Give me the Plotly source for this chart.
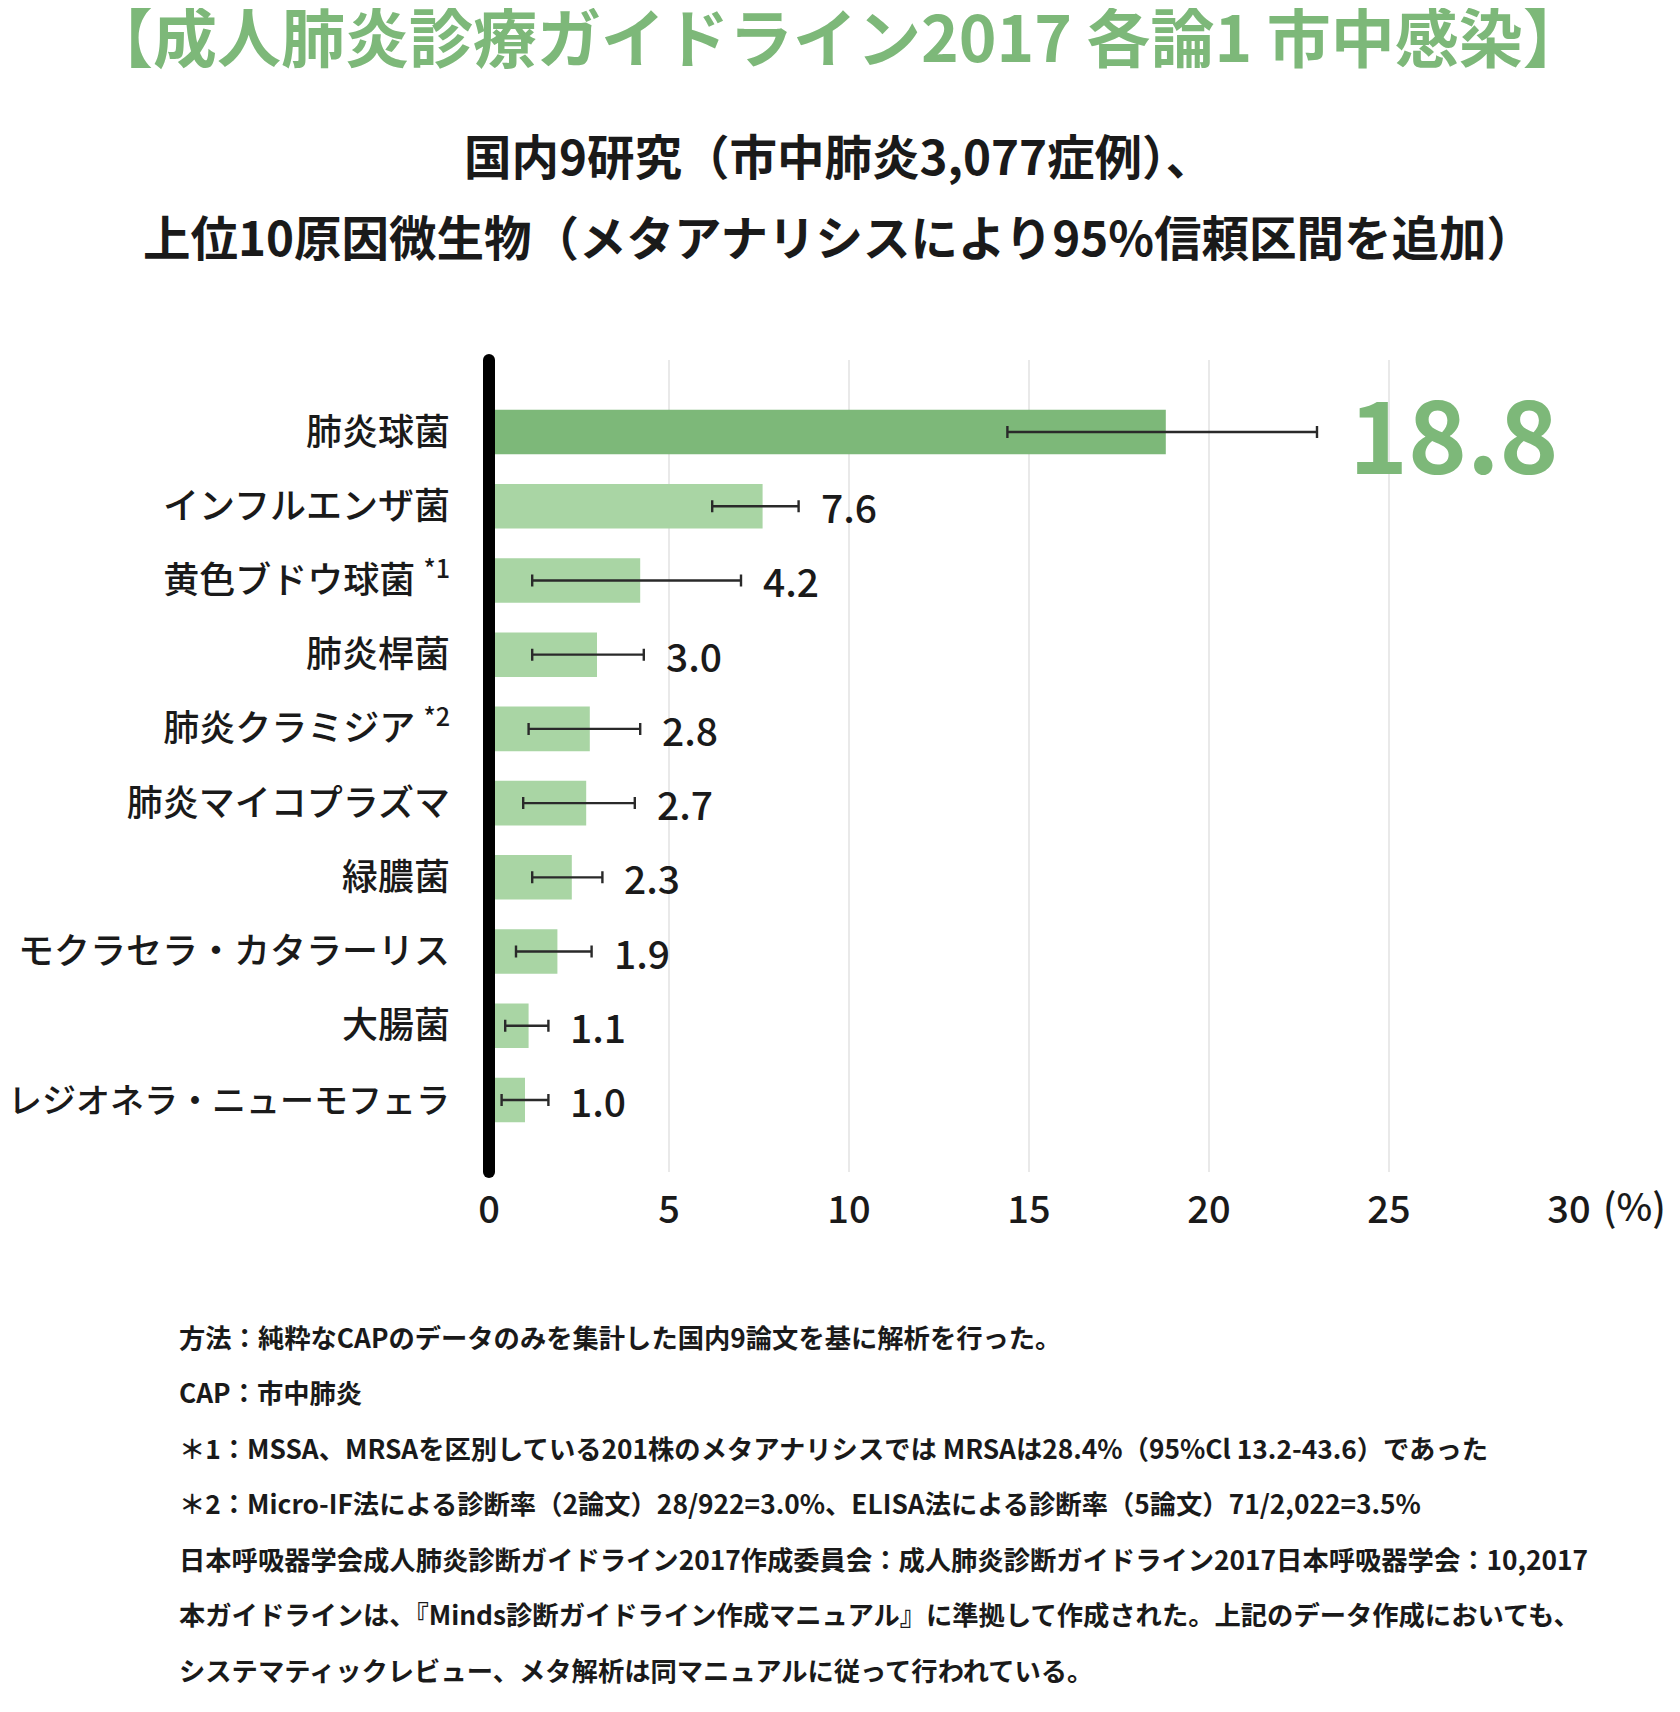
import re
import plotly.graph_objects as go

# ---------------- data ----------------
categories = ["肺炎球菌", "インフルエンザ菌", "黄色ブドウ球菌 <sup>*1</sup>", "肺炎桿菌",
              "肺炎クラミジア <sup>*2</sup>", "肺炎マイコプラズマ", "緑膿菌",
              "モクラセラ・カタラーリス", "大腸菌", "レジオネラ・ニューモフェラ"]
values = [18.8, 7.6, 4.2, 3.0, 2.8, 2.7, 2.3, 1.9, 1.1, 1.0]
ci_low = [14.4, 6.2, 1.2, 1.2, 1.1, 0.95, 1.2, 0.75, 0.45, 0.35]
ci_high = [23.0, 8.6, 7.0, 4.3, 4.2, 4.05, 3.15, 2.85, 1.65, 1.65]
x_ticks = [0, 5, 10, 15, 20, 25, 30]

title_text = "【成人肺炎診療ガイドライン2017 各論1 市中感染】"
subtitle_lines = ["国内9研究（市中肺炎3,077症例）、",
                  "上位10原因微生物（メタアナリシスにより95%信頼区間を追加）"]
footnotes = [
    "方法：純粋なCAPのデータのみを集計した国内9論文を基に解析を行った。",
    "CAP：市中肺炎",
    "＊1：MSSA、MRSAを区別している201株のメタアナリシスでは MRSAは28.4%（95%Cl 13.2-43.6）であった",
    "＊2：Micro-IF法による診断率（2論文）28/922=3.0%、ELISA法による診断率（5論文）71/2,022=3.5%",
    "日本呼吸器学会成人肺炎診断ガイドライン2017作成委員会：成人肺炎診断ガイドライン2017日本呼吸器学会：10,2017",
    "本ガイドラインは、『Minds診断ガイドライン作成マニュアル』に準拠して作成された。上記のデータ作成においても、",
    "システマティックレビュー、メタ解析は同マニュアルに従って行われている。",
]

# ---------------- styling ----------------
FONT = "Noto Sans CJK JP"
DARK_GREEN = "#7db879"
LIGHT_GREEN = "#a9d5a4"
TEXT = "#1a1a1a"

W, H = 1680, 1712
PL, PR, PT, PB = 481, 119, 352, 548
plot_w = W - PL - PR
plot_h = H - PT - PB


def px_x(px):
    return (px - PL) / plot_w


def px_y(py):
    return (H - PB - py) / plot_h


# long labels are drawn a little smaller so they fit the left margin
def tick_label(name):
    plain = re.sub(r"<[^>]+>", "", name)
    if len(plain) > 12:
        return f'<span style="font-size:34px">{name}</span>'
    return name


err_plus = [h - v for h, v in zip(ci_high, values)]
err_minus = [v - l for v, l in zip(values, ci_low)]
colors = [DARK_GREEN] + [LIGHT_GREEN] * (len(values) - 1)

fig = go.Figure()
fig.add_trace(go.Bar(
    x=values, y=categories, orientation="h",
    marker=dict(color=colors, line=dict(width=0)),
    width=0.6,
    error_x=dict(type="data", symmetric=False, array=err_plus, arrayminus=err_minus,
                 color="#2a2a2a", thickness=2.4, width=6),
    hoverinfo="skip",
))

annotations = []
for i, (v, hi) in enumerate(zip(values, ci_high)):
    if i == 0:
        annotations.append(dict(x=hi, y=categories[i], xref="x", yref="y",
                                text=f"<b>{v:.1f}</b>", showarrow=False,
                                xanchor="left", yanchor="middle", xshift=30, yshift=2,
                                font=dict(family=FONT, size=100, color=DARK_GREEN)))
    else:
        annotations.append(dict(x=hi, y=categories[i], xref="x", yref="y",
                                text=f"{v:.1f}", showarrow=False,
                                xanchor="left", yanchor="middle", xshift=20,
                                font=dict(family=FONT, size=39, color=TEXT, weight=500)))

# (%) unit
annotations.append(dict(x=30, y=px_y(1196), xref="x", yref="paper", text="(%)",
                        showarrow=False, xanchor="left", yanchor="middle", xshift=32,
                        font=dict(family=FONT, size=38, color=TEXT, weight=500)))

# title + subtitle
annotations.append(dict(x=px_x(830), y=px_y(26), xref="paper", yref="paper",
                        text=f"<b>{title_text}</b>", showarrow=False,
                        xanchor="center", yanchor="middle",
                        font=dict(family=FONT, size=64, color=DARK_GREEN)))
for py, line in zip([147, 227], subtitle_lines):
    annotations.append(dict(x=px_x(830), y=px_y(py), xref="paper", yref="paper",
                            text=f"<b>{line}</b>", showarrow=False,
                            xanchor="center", yanchor="middle",
                            font=dict(family=FONT, size=47.5, color=TEXT)))

# footnotes
for k, line in enumerate(footnotes):
    py = 1328 + k * 55.5
    annotations.append(dict(x=px_x(169), y=px_y(py), xref="paper", yref="paper",
                            text=f"<b>{line}</b>", showarrow=False,
                            xanchor="left", yanchor="middle",
                            font=dict(family=FONT, size=26.3, color=TEXT)))

# thick black axis with rounded ends (paper x=0 coincides with data x=0)
shapes = [
    dict(type="line", xref="paper", yref="paper", x0=0, x1=0, y0=0, y1=1,
         line=dict(color="black", width=12), layer="above"),
]
for yp in (0, 1):
    shapes.append(dict(type="circle", xref="paper", yref="paper", xsizemode="pixel",
                       ysizemode="pixel", xanchor=0, yanchor=yp,
                       x0=-6, x1=6, y0=-6, y1=6,
                       fillcolor="black", line=dict(width=0), layer="above"))

fig.update_layout(
    width=W, height=H,
    margin=dict(l=PL, r=PR, t=PT, b=PB, pad=0, autoexpand=False),
    paper_bgcolor="white", plot_bgcolor="white",
    showlegend=False,
    font=dict(family=FONT, color=TEXT),
    bargap=0.4,
    annotations=annotations,
    shapes=shapes,
    xaxis=dict(range=[0, 30], tickvals=x_ticks, ticktext=[str(t) for t in x_ticks],
               showgrid=True, gridcolor="#e9e9e9", gridwidth=1.5, zeroline=False,
               showline=False, ticks="", ticklabelstandoff=12, automargin=False,
               tickfont=dict(family=FONT, size=38, color=TEXT, weight=500), fixedrange=True),
    yaxis=dict(type="category", range=[9.97, -0.97], autorange=False,
               tickvals=categories, ticktext=[tick_label(c) for c in categories],
               showgrid=False, zeroline=False, showline=False, ticks="",
               ticklabelstandoff=38, automargin=False,
               tickfont=dict(family=FONT, size=36, color=TEXT, weight=500), fixedrange=True),
)

fig.write_html("out.html")
